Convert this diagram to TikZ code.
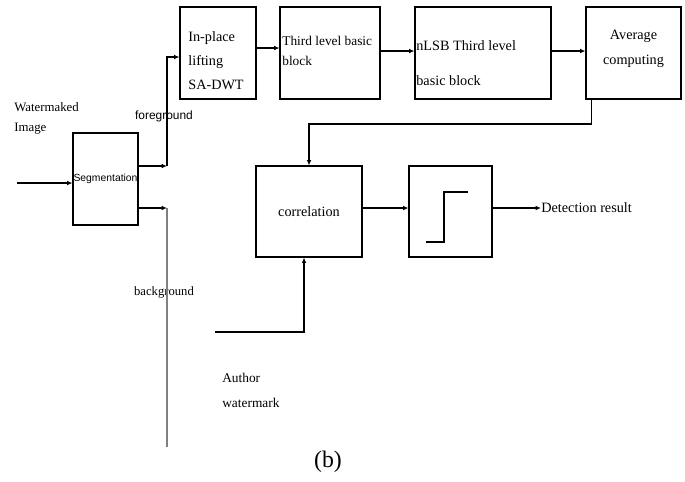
\documentclass[tikz,border=0pt]{standalone}
\usepackage{fontspec}
\setmainfont{Liberation Serif}
\setsansfont{Liberation Sans}
\usetikzlibrary{arrows.meta}

\begin{document}
\begin{tikzpicture}[
    x=0.02cm, y=-0.02cm,
    block/.style={draw, line width=0.6pt, inner sep=0pt, font=\fontsize{8.1}{11.3}\selectfont},
    boxtext/.style={inner sep=0pt, align=left, font=\fontsize{8.1}{11.3}\selectfont},
    wire/.style={line width=0.6pt, -{Latex[length=3pt,width=2.6pt]}},
    note/.style={font=\fontsize{7.3}{11.3}\selectfont, align=left, inner sep=0pt}
]
\useasboundingbox (0,0) rectangle (685,481);

% processing chain
\node[block, minimum width=1.30cm, minimum height=1.84cm, font=\sffamily\fontsize{5.9}{7}\selectfont] (seg) at (105.5,179) {Segmentation};
\node[block, minimum width=1.52cm, minimum height=1.84cm] (lift) at (218,53) {};
\node[block, minimum width=2.00cm, minimum height=1.84cm] (third) at (330,53) {};
\node[block, minimum width=2.72cm, minimum height=1.84cm] (nlsb) at (483,53) {};
\node[block, minimum width=1.90cm, minimum height=1.84cm] (avg) at (633.5,53) {};
\node[block, minimum width=2.12cm, minimum height=1.82cm] (corr) at (309,211.5) {correlation};
\node[block, minimum width=1.66cm, minimum height=1.82cm] (step) at (450.5,211.5) {};
\draw[line width=0.6pt] (426,242) -- (444,242) -- (444,192) -- (468,192);

% texts in the upper blocks
\node[boxtext, anchor=west, font=\fontsize{8.1}{13.6}\selectfont] (lifttxt) at (188,61) {In-place\\lifting\\SA-DWT};
\node[boxtext, anchor=west, font=\fontsize{7.6}{11.3}\selectfont] (thirdtxt) at (282,51) {Third level basic\\block};
\node[boxtext, anchor=west] (nlsbtxt) at (416,63.5) {nLSB Third level\\[8.5pt]basic block};
\node[boxtext, align=center, font=\fontsize{8.1}{14.2}\selectfont] (avgtxt) at (633.5,48.5) {Average\\computing};

% labels
\node[note, anchor=west] (wimg) at (14,118) {Watermaked\\Image};
\node[note, font=\sffamily\fontsize{6.8}{8}\selectfont] (fgtxt) at (164,116) {foreground};
\node[note, font=\fontsize{7.2}{8}\selectfont] (bgtxt) at (164,292) {background};
\node[note, anchor=west, font=\fontsize{7.6}{14.2}\selectfont] (author) at (222,390) {Author\\watermark};
\node[note, anchor=west, font=\fontsize{8.1}{10}\selectfont] (det) at (541,208) {Detection result};
\node[font=\fontsize{13.5}{15}\selectfont, inner sep=0pt] (cap) at (328,462) {(b)};

% connectors
\coordinate (in) at (17,183);
\coordinate (fg) at (167,166);
\coordinate (bg) at (167,208);
\coordinate (bgend) at (167,447);
\coordinate (fb) at (309,124);
\coordinate (aw) at (215,332);

\draw[wire] (in) -- (seg.west |- in);
\draw[wire] (seg.east |- fg) -- (fg);
\draw[wire] (fg) |- (lift.west |- 0,57);
\draw[wire] (seg.east |- bg) -- (bg);
\draw[gray, line width=0.9pt] (bg) -- (bgend);
\draw[wire] (lift.east |- 0,48) -- (third.west |- 0,48);
\draw[wire] (third.east |- 0,51) -- (nlsb.west |- 0,51);
\draw[wire] (nlsb.east |- 0,51) -- (avg.west |- 0,51);
\draw[wire] ([xshift=0.12cm]avg.south west) |- (fb) -- (corr.north);
\draw[wire] (corr.east |- 0,208) -- (step.west |- 0,208);
\draw[wire] (step.east |- det.west) -- (det.west);
\draw[wire] (aw) -| ([xshift=-0.1cm]corr.south);
\end{tikzpicture}
\end{document}
